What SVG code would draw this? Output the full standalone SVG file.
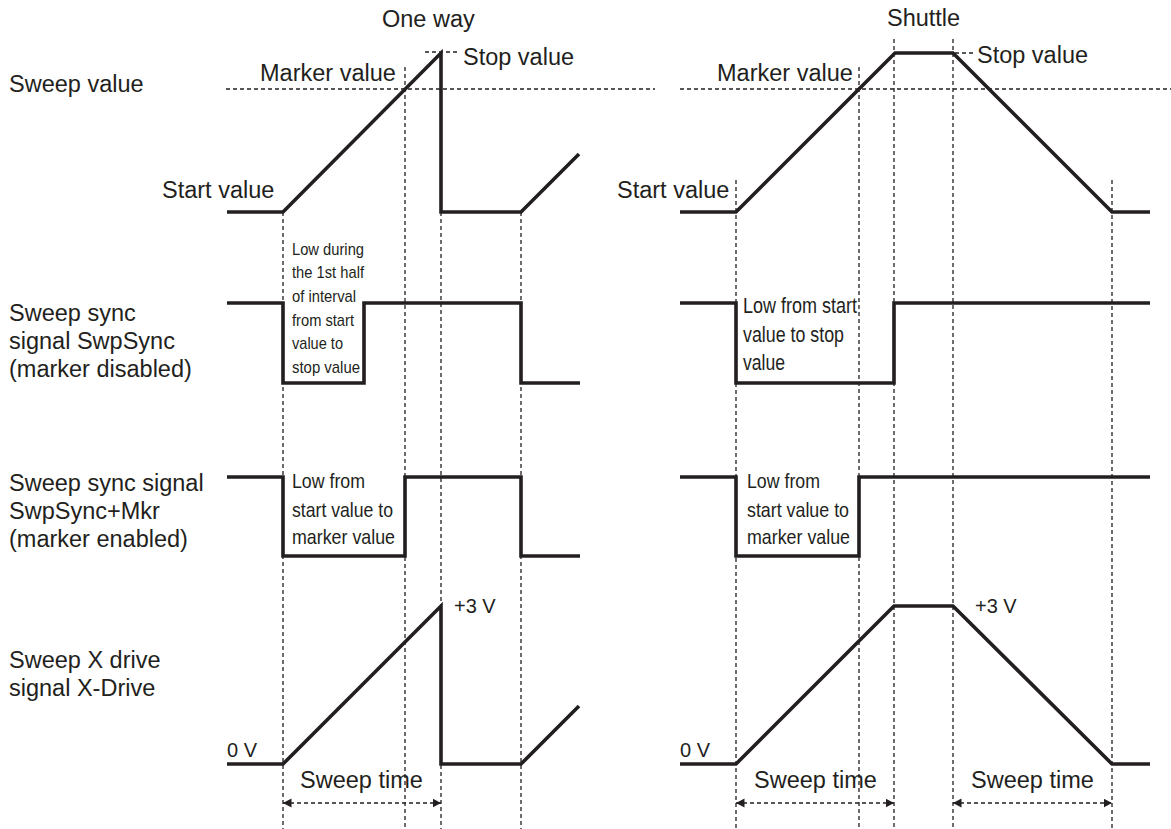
<svg xmlns="http://www.w3.org/2000/svg" width="1171" height="829" viewBox="0 0 1171 829">
<style>
text{font-family:"Liberation Sans",Arial,sans-serif;fill:#231f20}
.lbl{font-size:23.5px}
.v{font-size:20px}
.n{font-family:"Liberation Sans Narrow","Liberation Sans",sans-serif}
.s17{font-size:17px}
.s21{font-size:21px}
.s22{font-size:22px}
.trace{fill:none;stroke:#231f20;stroke-width:3.6;stroke-linejoin:miter;stroke-linecap:butt}
.guide{fill:none;stroke:#231f20;stroke-width:1.3;stroke-dasharray:4 3}
.dim{fill:none;stroke:#231f20;stroke-width:1.3;stroke-dasharray:4 3;marker-start:url(#ah);marker-end:url(#ah)}
</style>
<defs>
<marker id="ah" markerUnits="userSpaceOnUse" markerWidth="9" markerHeight="10" refX="8.5" refY="4.5" orient="auto-start-reverse">
<path d="M0,0 L8.5,4.5 L0,9 Z" fill="#231f20"/>
</marker>
</defs>
<rect width="1171" height="829" fill="#fff"/>

<g id="connectors">
<path class="guide" d="M226,89 H655 M680,89 H1171"/>
<path class="guide" d="M283,212 V829 M405,67 V829 M441,212 V829 M521,212 V829 M425,52 H459"/>
<path class="guide" d="M736,180 V829 M859,67 V829 M894,39 V829 M953,39 V829 M1112,180 V829 M955,53 H973"/>
<path class="dim" d="M283,803 H441"/>
<path class="dim" d="M736,803 H894"/>
<path class="dim" d="M953,803 H1112"/>
</g>

<g id="titles">
<text class="lbl" x="382" y="27">One way</text>
<text class="lbl" x="887" y="26">Shuttle</text>
</g>

<g id="row-labels">
<text class="lbl" x="9" y="92">Sweep value</text>
<text class="lbl" x="9" y="321">Sweep sync</text>
<text class="lbl" x="9" y="349">signal SwpSync</text>
<text class="lbl" x="9" y="377">(marker disabled)</text>
<text class="lbl" x="9" y="491">Sweep sync signal</text>
<text class="lbl" x="9" y="519">SwpSync+Mkr</text>
<text class="lbl" x="9" y="547">(marker enabled)</text>
<text class="lbl" x="9" y="668">Sweep X drive</text>
<text class="lbl" x="9" y="696">signal X-Drive</text>
</g>

<g id="sweep-value-oneway">
<path class="trace" d="M227,212 H283 L441,53 V212 H521 L579,154"/>
<text class="lbl" x="260" y="81">Marker value</text>
<text class="lbl" x="463" y="65">Stop value</text>
<text class="lbl" x="162" y="198">Start value</text>
</g>

<g id="sweep-value-shuttle">
<path class="trace" d="M680,212 H736 L895,53 H953 L1112,212 H1150"/>
<text class="lbl" x="717" y="81">Marker value</text>
<text class="lbl" x="977" y="63">Stop value</text>
<text class="lbl" x="617" y="198">Start value</text>
</g>

<g id="swpsync-oneway">
<path class="trace" d="M227,303 H283 V383 H364 V303 H521 V383 H580"/>
<text class="n s17" x="292" y="255" textLength="72" lengthAdjust="spacingAndGlyphs">Low during</text>
<text class="n s17" x="292" y="278" textLength="72" lengthAdjust="spacingAndGlyphs">the 1st half</text>
<text class="n s17" x="292" y="302" textLength="64" lengthAdjust="spacingAndGlyphs">of interval</text>
<text class="n s17" x="292" y="326" textLength="62" lengthAdjust="spacingAndGlyphs">from start</text>
<text class="n s17" x="292" y="349" textLength="51" lengthAdjust="spacingAndGlyphs">value to</text>
<text class="n s17" x="292" y="373" textLength="68" lengthAdjust="spacingAndGlyphs">stop value</text>
</g>

<g id="swpsync-shuttle">
<path class="trace" d="M680,303 H736 V383 H894 V303 H1150"/>
<text class="n s22" x="743" y="313" textLength="114" lengthAdjust="spacingAndGlyphs">Low from start</text>
<text class="n s22" x="743" y="342" textLength="101" lengthAdjust="spacingAndGlyphs">value to stop</text>
<text class="n s22" x="743" y="370" textLength="42" lengthAdjust="spacingAndGlyphs">value</text>
</g>

<g id="swpsyncmkr-oneway">
<path class="trace" d="M227,477 H283 V556 H405 V477 H521 V556 H580"/>
<text class="n s21" x="292" y="488" textLength="73" lengthAdjust="spacingAndGlyphs">Low from</text>
<text class="n s21" x="292" y="517" textLength="101" lengthAdjust="spacingAndGlyphs">start value to</text>
<text class="n s21" x="292" y="544" textLength="103" lengthAdjust="spacingAndGlyphs">marker value</text>
</g>

<g id="swpsyncmkr-shuttle">
<path class="trace" d="M680,477 H736 V556 H859 V477 H1150"/>
<text class="n s21" x="747" y="488" textLength="73" lengthAdjust="spacingAndGlyphs">Low from</text>
<text class="n s21" x="747" y="517" textLength="102" lengthAdjust="spacingAndGlyphs">start value to</text>
<text class="n s21" x="747" y="544" textLength="103" lengthAdjust="spacingAndGlyphs">marker value</text>
</g>

<g id="xdrive-oneway">
<path class="trace" d="M227,764 H283 L441,606 V764 H521 L579,706"/>
<text class="v" x="227" y="757">0 V</text>
<text class="v" x="454" y="613">+3 V</text>
<text class="lbl" x="300" y="788">Sweep time</text>
</g>

<g id="xdrive-shuttle">
<path class="trace" d="M680,764 H736 L894,606 H953 L1112,764 H1150"/>
<text class="v" x="680" y="757">0 V</text>
<text class="v" x="975" y="613">+3 V</text>
<text class="lbl" x="754" y="788">Sweep time</text>
<text class="lbl" x="971" y="788">Sweep time</text>
</g>
</svg>
